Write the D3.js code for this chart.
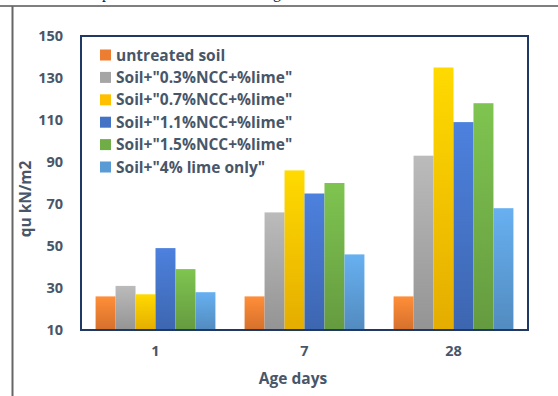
<!DOCTYPE html>
<html>
<head>
<meta charset="utf-8">
<script src="https://cdn.jsdelivr.net/npm/d3@7"></script>
<style>
  html, body { margin: 0; padding: 0; background: #fff; }
  svg { display: block; }
</style>
</head>
<body>
<svg id="chart" width="558" height="396"></svg>
<script>
// Unconfined compressive strength by curing age
const ages = ["1", "7", "28"];
const seriesNames = [
  "untreated soil",
  "Soil+\"0.3%NCC+%lime\"",
  "Soil+\"0.7%NCC+%lime\"",
  "Soil+\"1.1%NCC+%lime\"",
  "Soil+\"1.5%NCC+%lime\"",
  "Soil+\"4% lime only\""
];
const untreated = [26, 26, 26];
const ncc03 = [31, 66, 93];
const ncc07 = [27, 86, 135];
const ncc11 = [49, 75, 109];
const ncc15 = [39, 80, 118];
const limeOnly = [28, 46, 68];
const seriesValues = [untreated, ncc03, ncc07, ncc11, ncc15, limeOnly];
const yTicks = [10, 30, 50, 70, 90, 110, 130, 150];
const colors = ["#ED7D31", "#A5A5A5", "#FFC000", "#4472C4", "#70AD47", "#5B9BD5"];

const svg = d3.select("#chart");
const font = "'Open Sans', 'DejaVu Sans', sans-serif";
const textCol = "#485669";

// page frame around the figure
svg.append("line").attr("x1", 0).attr("x2", 558).attr("y1", 6).attr("y2", 6)
  .attr("stroke", "#555").attr("stroke-width", 1.5);
svg.append("line").attr("x1", 12.5).attr("x2", 12.5).attr("y1", 6).attr("y2", 396)
  .attr("stroke", "#666").attr("stroke-width", 2);
// descenders of the caption line above
svg.append("text").attr("x", 102).attr("y", -2.5).attr("font-family", "'Liberation Serif', serif")
  .attr("font-size", 16).attr("fill", "#222").text("p");
svg.append("text").attr("x", 273).attr("y", -2.5).attr("font-family", "'Liberation Serif', serif")
  .attr("font-size", 16).attr("fill", "#222").text("g");

const plot = { left: 81, right: 528, top: 36, bottom: 330 };

const x = d3.scaleBand().domain(ages).range([plot.left, plot.right]).paddingInner(0).paddingOuter(0);
const xs = d3.scaleBand().domain(d3.range(seriesNames.length)).range([0, x.bandwidth()])
  .paddingOuter(0.73).paddingInner(0);
const y = d3.scaleLinear().domain([10, 150]).range([plot.bottom, plot.top]);

// vertical gradients: lighter top, deeper bottom
const defs = svg.append("defs");
colors.forEach((c, i) => {
  const g = defs.append("linearGradient").attr("id", "grad" + i)
    .attr("x1", 0).attr("y1", 0).attr("x2", 0).attr("y2", 1);
  g.append("stop").attr("offset", "0%").attr("stop-color", d3.color(c).brighter(0.35));
  g.append("stop").attr("offset", "100%").attr("stop-color", d3.color(c).darker(0.3));
});

// bars
const groups = svg.append("g").selectAll("g").data(ages).join("g")
  .attr("transform", d => `translate(${x(d)},0)`);
groups.selectAll("rect")
  .data((d, gi) => seriesValues.map((vals, si) => ({ si, v: vals[gi] })))
  .join("rect")
  .attr("x", d => xs(d.si))
  .attr("width", xs.bandwidth())
  .attr("y", d => y(d.v))
  .attr("height", d => y(10) - y(d.v))
  .attr("fill", d => `url(#grad${d.si})`);

// plot border
svg.append("rect").attr("x", plot.left).attr("y", plot.top)
  .attr("width", plot.right - plot.left).attr("height", plot.bottom - plot.top)
  .attr("fill", "none").attr("stroke", "#1F3864").attr("stroke-width", 2);

// y axis labels
const yAxis = d3.axisLeft(y).tickValues(yTicks).tickSize(0).tickPadding(0);
const ya = svg.append("g").attr("transform", "translate(63,0)").call(yAxis);
ya.select(".domain").remove();
ya.selectAll("text").attr("font-family", font).attr("font-weight", "bold")
  .attr("font-size", 14.5).attr("fill", textCol);

// x axis labels
const xAxis = d3.axisBottom(x).tickSize(0).tickPadding(0);
const xa = svg.append("g").attr("transform", "translate(0,346)").call(xAxis);
xa.select(".domain").remove();
xa.selectAll("text").attr("font-family", font).attr("font-weight", "bold")
  .attr("font-size", 14.5).attr("fill", textCol);

// axis titles
svg.append("text").attr("x", 293).attr("y", 384).attr("text-anchor", "middle")
  .attr("font-family", font).attr("font-weight", "bold").attr("font-size", 15.5)
  .attr("fill", textCol).text("Age days");
svg.append("text").attr("transform", "translate(31,199) rotate(-90)").attr("text-anchor", "middle")
  .attr("font-family", font).attr("font-weight", "bold").attr("font-size", 15.5)
  .attr("fill", textCol).text("qu kN/m2");

// legend
const legend = svg.append("g").attr("transform", "translate(100,55)");
const items = legend.selectAll("g").data(seriesNames).join("g")
  .attr("transform", (d, i) => `translate(0,${i * 22.4})`);
items.append("rect").attr("x", 0).attr("y", -5.5).attr("width", 11).attr("height", 11)
  .attr("fill", (d, i) => colors[i]);
items.append("text").attr("x", 16).attr("y", 5.5).attr("font-family", font)
  .attr("font-weight", "bold").attr("font-size", 15.5).attr("fill", textCol).text(d => d);
</script>
</body>
</html>
